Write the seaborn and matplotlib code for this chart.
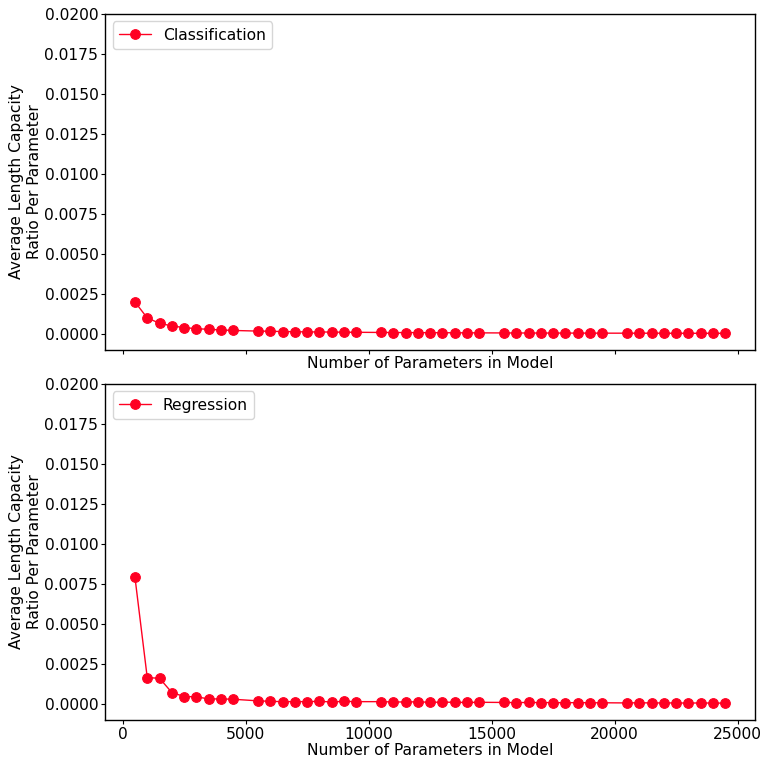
import numpy as np
import pandas as pd
import matplotlib
matplotlib.use('Agg')
import matplotlib.pyplot as plt
import seaborn as sns

# model sizes (multiples of 500 skipped every 5000)
params = [500, 1000, 1500, 2000, 2500, 3000, 3500, 4000, 4500,
          5500, 6000, 6500, 7000, 7500, 8000, 8500, 9000, 9500,
          10500, 11000, 11500, 12000, 12500, 13000, 13500, 14000, 14500,
          15500, 16000, 16500, 17000, 17500, 18000, 18500, 19000, 19500,
          20500, 21000, 21500, 22000, 22500, 23000, 23500, 24000, 24500]

classification = [0.00200, 0.00100, 0.00067, 0.00050, 0.00040, 0.00033, 0.00029, 0.00025, 0.00022,
                  0.00018, 0.00017, 0.00015, 0.00014, 0.00013, 0.000125, 0.00012, 0.00011, 0.000105,
                  0.000095, 0.00009, 0.000087, 0.000083, 0.00008, 0.000077, 0.000074, 0.000071, 0.000069,
                  0.000065, 0.000062, 0.00006, 0.000059, 0.000057, 0.000056, 0.000054, 0.000053, 0.000051,
                  0.000049, 0.000048, 0.000047, 0.000045, 0.000044, 0.000043, 0.000043, 0.000042, 0.000041]

regression = [0.00791, 0.00164, 0.00160, 0.00071, 0.00046, 0.00044, 0.00031, 0.00031, 0.00029,
              0.00019, 0.00016, 0.00014, 0.00014, 0.00014, 0.00016, 0.00012, 0.00016, 0.00014,
              0.00014, 0.00012, 0.00012, 0.00013, 0.00010, 0.00011, 0.00010, 0.00009, 0.00010,
              0.00009, 0.00008, 0.00009, 0.00008, 0.00008, 0.00007, 0.00008, 0.00007, 0.00007,
              0.00006, 0.00007, 0.00006, 0.00006, 0.00006, 0.00005, 0.00006, 0.00005, 0.00005]

df = pd.DataFrame({'params': params, 'Classification': classification, 'Regression': regression})

sns.set_style('ticks')
plt.rcParams['font.family'] = ['DejaVu Sans']
plt.rcParams['font.size'] = 11.2
plt.rcParams['text.color'] = 'black'
plt.rcParams['axes.labelcolor'] = 'black'
plt.rcParams['xtick.color'] = 'black'
plt.rcParams['ytick.color'] = 'black'
plt.rcParams['axes.edgecolor'] = 'black'

red = '#ff0022'
fig, axes = plt.subplots(2, 1, figsize=(7.64, 7.61), dpi=100, sharex=True)

for ax, col in zip(axes, ['Classification', 'Regression']):
    sns.lineplot(data=df, x='params', y=col, ax=ax, color=red, marker='o',
                 markersize=7, markeredgecolor=red, linewidth=1, label=col)
    ax.set_ylim(-0.001, 0.02)
    ax.set_yticks(np.arange(0, 0.0201, 0.0025))
    ax.set_ylabel('Average Length Capacity\nRatio Per Parameter', fontsize=11.2, labelpad=2)
    ax.set_xlabel('Number of Parameters in Model', fontsize=11.2, labelpad=1)
    ax.xaxis.label.set_visible(True)
    ax.xaxis.set_tick_params(labelbottom=(col == 'Regression'))
    ax.tick_params(labelsize=11.2, length=3, pad=2)
    for s in ax.spines.values():
        s.set_visible(True)
        s.set_linewidth(1)
    ax.legend(loc='upper left', fontsize=11.2)

axes[1].set_xticks([0, 5000, 10000, 15000, 20000, 25000])
plt.subplots_adjust(left=0.138, right=0.988, top=0.982, bottom=0.054, hspace=0.1)
plt.savefig('out.png', dpi=100)
